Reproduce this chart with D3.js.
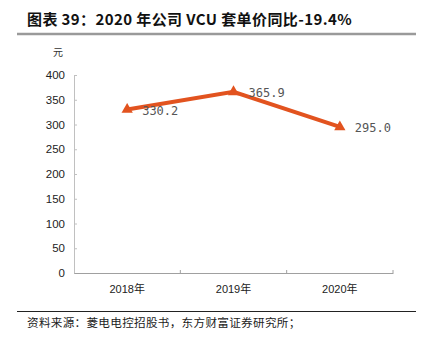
<!DOCTYPE html>
<html><head><meta charset="utf-8">
<script src="https://cdn.jsdelivr.net/npm/d3@7"></script>
<style>body{margin:0;background:#fff}svg{display:block}</style>
</head><body>
<script>
const categories = ["2018年", "2019年", "2020年"];
const values = [330.2, 365.9, 295.0];
const valueLabels = ["330.2", "365.9", "295.0"];
const yTicks = [0, 50, 100, 150, 200, 250, 300, 350, 400];
const titleText = "图表 39：2020 年公司 VCU 套单价同比-19.4%";
const unitText = "元";
const sourceText = "资料来源：菱电电控招股书，东方财富证券研究所；";

(function () {
const W = 432, H = 346;
const svg = d3.select("body").append("svg").attr("width", W).attr("height", H);

const pLeft = 74, pRight = 393, pTop = 75, pBottom = 273;
const x = d3.scaleBand().domain(categories).range([pLeft, pRight]).padding(0);
const y = d3.scaleLinear().domain([0, 400]).range([pBottom, pTop]);

// title
svg.append("text").attr("x", 27).attr("y", 25)
  .attr("font-family", "'Noto Sans CJK SC'").attr("font-weight", "bold")
  .attr("font-size", 15).attr("letter-spacing", 0.4).attr("fill", "#111").text(titleText);
svg.append("line").attr("x1", 17).attr("x2", 416).attr("y1", 34).attr("y2", 34)
  .attr("stroke", "#9a9a9a").attr("stroke-width", 2.5);

// unit
svg.append("text").attr("x", 58).attr("y", 56).attr("text-anchor", "middle")
  .attr("font-family", "'Noto Sans CJK SC'").attr("font-size", 10).attr("fill", "#333").text(unitText);

// y axis
const yAxis = svg.append("g").attr("transform", `translate(${pLeft},0)`)
  .call(d3.axisLeft(y).tickValues(yTicks).tickSize(-3).tickPadding(9).tickSizeOuter(0));
yAxis.select(".domain").attr("stroke", "#c0c0c0");
yAxis.selectAll(".tick line").attr("stroke", "#c0c0c0");
yAxis.selectAll("text").attr("font-family", "'Liberation Sans', Arial").attr("font-size", 11.5).attr("fill", "#222");

// x axis
const xAxis = svg.append("g").attr("transform", `translate(0,${pBottom})`)
  .call(d3.axisBottom(x).tickSize(0).tickPadding(12));
xAxis.select(".domain").attr("stroke", "#a0a0a0");
xAxis.selectAll("text").attr("font-family", "'Liberation Sans', 'Noto Sans CJK SC'").attr("font-size", 11).attr("fill", "#222");
const bounds = categories.map(c => x(c) + x.bandwidth());
svg.append("g").selectAll("line").data(bounds).join("line")
  .attr("x1", d => d).attr("x2", d => d).attr("y1", pBottom).attr("y2", pBottom - 3)
  .attr("stroke", "#a0a0a0");

// line
const cx = c => x(c) + x.bandwidth() / 2;
const pts = categories.map((c, i) => [cx(c), y(values[i])]);
svg.append("path").attr("d", d3.line()(pts)).attr("fill", "none")
  .attr("stroke", "#E2531F").attr("stroke-width", 4);
svg.append("g").selectAll("path").data(pts).join("path")
  .attr("transform", d => `translate(${d[0]},${d[1]})`)
  .attr("d", d3.symbol(d3.symbolTriangle, 55)())
  .attr("fill", "#E2531F");

// labels
svg.append("g").selectAll("text").data(pts).join("text")
  .attr("x", d => d[0] + 15).attr("y", d => d[1] + 5)
  .attr("font-family", "'DejaVu Sans Mono'").attr("font-size", 12).attr("fill", "#555")
  .text((d, i) => valueLabels[i]);

// source
svg.append("line").attr("x1", 17).attr("x2", 416).attr("y1", 311.5).attr("y2", 311.5)
  .attr("stroke", "#222").attr("stroke-width", 1);
svg.append("text").attr("x", 27).attr("y", 327)
  .attr("font-family", "'Noto Sans CJK SC'").attr("font-size", 11.6).attr("letter-spacing", 0.3).attr("fill", "#222").text(sourceText);
})();
</script>
</body></html>
